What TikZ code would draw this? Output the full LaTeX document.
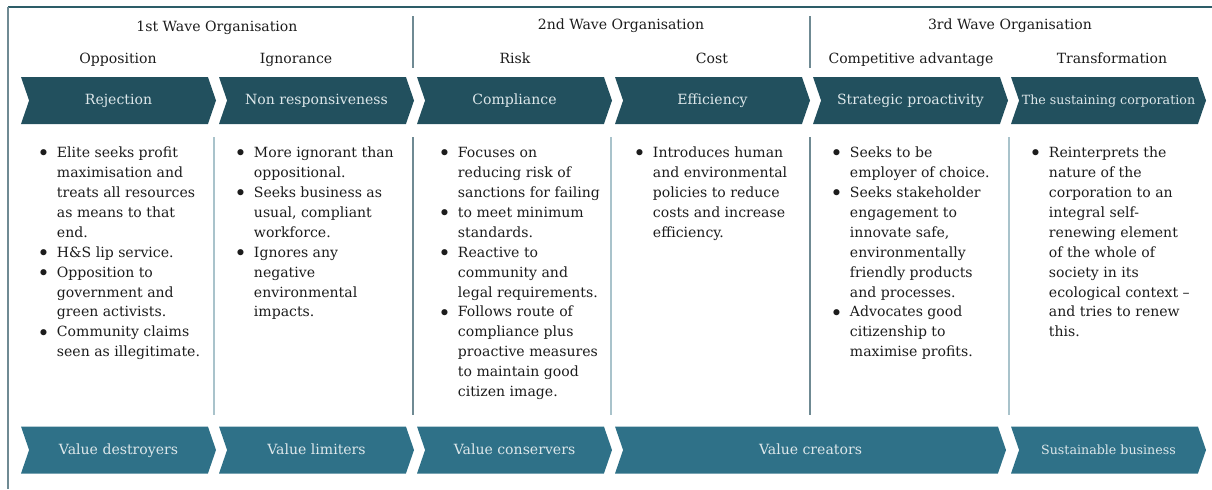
\documentclass[tikz,border=0pt]{standalone}
\usepackage{fontspec}
\setmainfont{DejaVu Serif}
\usetikzlibrary{shapes.symbols}
\definecolor{wavedark}{HTML}{22505E}
\definecolor{wavelight}{HTML}{2F7188}
\definecolor{chevtext}{HTML}{DDE7EA}
\definecolor{rulelight}{HTML}{A9C3CB}
\definecolor{ruledark}{HTML}{6F8A93}
\definecolor{framedark}{HTML}{2D5D68}
\definecolor{bodytext}{HTML}{1C1C1C}
\newcommand{\bul}{\makebox[14pt][l]{\raisebox{-0.5ex}{\scalebox{1.5}{\textbullet}}}}

\begin{document}
\begin{tikzpicture}[x=0.25mm, y=-0.25mm,
		stage/.style={signal, signal to=east, signal from=west, signal pointer angle=142,
			inner sep=0pt, minimum height=11.75mm, minimum width=48.75mm, text=chevtext,
			text height=1.55ex, text depth=0.45ex},
		topstage/.style={stage, fill=wavedark},
		lowstage/.style={stage, fill=wavelight},
		head/.style={text=bodytext, font=\fontsize{10}{12}\selectfont,
			text height=1.55ex, text depth=0.45ex},
		points/.style={anchor=north west, inner sep=0pt, text=bodytext,
			font=\fontsize{10}{14.2}\selectfont}]
		\useasboundingbox (0,0) rectangle (1212,489);

		% frame
		\draw[framedark, line width=1.4pt] (8,7) -- (1212,7);
		\draw[ruledark, line width=1pt] (8,7) -- (8,489);

		% wave headings
		\draw[ruledark, line width=0.9pt] (413,16) -- (413,68);
		\draw[ruledark, line width=0.9pt] (810,16) -- (810,68);
		\node[head] (wave1) at (217,27) {1st Wave Organisation};
		\node[head] (wave2) at (621,25) {2nd Wave Organisation};
		\node[head] (wave3) at (1010,25) {3rd Wave Organisation};

		\node[head] (opp) at (118,59) {Opposition};
		\node[head] (ign) at (296,59) {Ignorance};
		\node[head] (risk) at (515,59) {Risk};
		\node[head] (cost) at (712,59) {Cost};
		\node[head] (comp) at (911,59) {Competitive advantage};
		\node[head] (trans) at (1112,59) {Transformation};

		% top chevrons
		\node[topstage] (rej) at (118.5,100.5) {Rejection};
		\node[topstage] (nonr) at (316.5,100.5) {Non responsiveness};
		\node[topstage] (compl) at (514.5,100.5) {Compliance};
		\node[topstage] (eff) at (712.5,100.5) {Efficiency};
		\node[topstage] (strat) at (910.5,100.5) {Strategic proactivity};
		\node[topstage, font=\fontsize{9}{11}\selectfont] (corp) at (1108.5,100.5) {The sustaining corporation};

		% column rules
		\draw[rulelight, line width=0.9pt] (214,137) -- (214,415);
		\draw[ruledark, line width=0.9pt] (413,137) -- (413,415);
		\draw[rulelight, line width=0.9pt] (611,137) -- (611,415);
		\draw[ruledark, line width=0.9pt] (810,137) -- (810,415);
		\draw[rulelight, line width=0.9pt] (1009,137) -- (1009,415);

		% bullet points
		\node[points] (txt1) at (37,143) {\begin{tabular}{@{}l@{}l@{}}
				\bul & Elite seeks profit\\
				& maximisation and\\
				& treats all resources\\
				& as means to that\\
				& end.\\
				\bul & H\&S lip service.\\
				\bul & Opposition to\\
				& government and\\
				& green activists.\\
				\bul & Community claims\\
				& seen as illegitimate.
			\end{tabular}};
		\node[points] (txt2) at (234,143) {\begin{tabular}{@{}l@{}l@{}}
				\bul & More ignorant than\\
				& oppositional.\\
				\bul & Seeks business as\\
				& usual, compliant\\
				& workforce.\\
				\bul & Ignores any\\
				& negative\\
				& environmental\\
				& impacts.
			\end{tabular}};
		\node[points] (txt3) at (438,143) {\begin{tabular}{@{}l@{}l@{}}
				\bul & Focuses on\\
				& reducing risk of\\
				& sanctions for failing\\
				\bul & to meet minimum\\
				& standards.\\
				\bul & Reactive to\\
				& community and\\
				& legal requirements.\\
				\bul & Follows route of\\
				& compliance plus\\
				& proactive measures\\
				& to maintain good\\
				& citizen image.
			\end{tabular}};
		\node[points] (txt4) at (633,143) {\begin{tabular}{@{}l@{}l@{}}
				\bul & Introduces human\\
				& and environmental\\
				& policies to reduce\\
				& costs and increase\\
				& efficiency.
			\end{tabular}};
		\node[points] (txt5) at (830,143) {\begin{tabular}{@{}l@{}l@{}}
				\bul & Seeks to be\\
				& employer of choice.\\
				\bul & Seeks stakeholder\\
				& engagement to\\
				& innovate safe,\\
				& environmentally\\
				& friendly products\\
				& and processes.\\
				\bul & Advocates good\\
				& citizenship to\\
				& maximise profits.
			\end{tabular}};
		\node[points] (txt6) at (1029,143) {\begin{tabular}{@{}l@{}l@{}}
				\bul & Reinterprets the\\
				& nature of the\\
				& corporation to an\\
				& integral self-\\
				& renewing element\\
				& of the whole of\\
				& society in its\\
				& ecological context --\\
				& and tries to renew\\
				& this.
			\end{tabular}};

		% bottom chevrons
		\node[lowstage] (destr) at (118.5,450) {Value destroyers};
		\node[lowstage] (limit) at (316.5,450) {Value limiters};
		\node[lowstage] (conserv) at (514.5,450) {Value conservers};
		\node[lowstage, minimum width=97.75mm] (creat) at (810.5,450) {Value creators};
		\node[lowstage, font=\fontsize{9}{11}\selectfont] (sust) at (1108.5,450) {Sustainable business};
	\end{tikzpicture}
\end{document}
